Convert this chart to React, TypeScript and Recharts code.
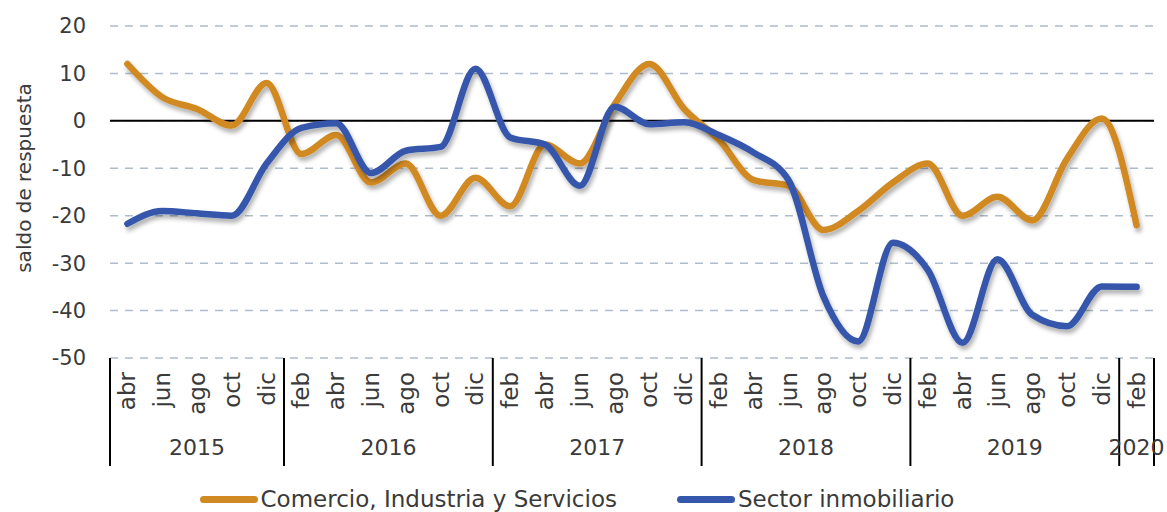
import { LineChart, Line, XAxis, YAxis, CartesianGrid, ReferenceLine, Legend } from 'recharts';

const meses = [
  'abr', 'jun', 'ago', 'oct', 'dic',
  'feb', 'abr', 'jun', 'ago', 'oct', 'dic',
  'feb', 'abr', 'jun', 'ago', 'oct', 'dic',
  'feb', 'abr', 'jun', 'ago', 'oct', 'dic',
  'feb', 'abr', 'jun', 'ago', 'oct', 'dic',
  'feb',
];

const anios = [
  '2015', '2015', '2015', '2015', '2015',
  '2016', '2016', '2016', '2016', '2016', '2016',
  '2017', '2017', '2017', '2017', '2017', '2017',
  '2018', '2018', '2018', '2018', '2018', '2018',
  '2019', '2019', '2019', '2019', '2019', '2019',
  '2020',
];

const comercio = [
  12, 5, 2.5, -1, 8,
  -7, -3, -13, -9, -20, -12,
  -18, -5, -9, 3.5, 12, 2.5,
  -4, -12.5, -13.7, -23, -19, -13,
  -9, -20, -16, -21, -8, 0.5,
  -22,
];

const inmobiliario = [
  -21.7, -19, -19.5, -20, -9,
  -1.5, -0.5, -11, -6.3, -5.5, 11,
  -3.5, -5, -13.7, 3, -0.7, -0.3,
  -3, -6.7, -12.5, -37, -46.5, -25.7,
  -31.4, -46.8, -29.2, -40.9, -43.3, -34.9,
  -35,
];

const yTicks = [-50, -40, -30, -20, -10, 0, 10, 20];

const data = meses.map((mes, i) => ({
  key: `${mes}-${anios[i]}`,
  mes,
  anio: anios[i],
  comercio: comercio[i],
  inmobiliario: inmobiliario[i],
}));

const W = 1167;
const H = 512;
const MARGIN = { top: 26, right: 13, left: 0, bottom: 0 };
const Y_W = 110;
const BAND = (W - MARGIN.left - MARGIN.right - Y_W) / data.length;
const FONT = '"DejaVu Sans", sans-serif';
const TXT = '#3a3a3a';
const NARANJA = '#d18924';
const AZUL = '#3457ab';

function MonthTick(props: any) {
  const { x, y, payload } = props;
  const i: number = payload.index;
  const anio = anios[i];
  let s = i;
  while (s > 0 && anios[s - 1] === anio) s--;
  let e = i;
  while (e < anios.length - 1 && anios[e + 1] === anio) e++;
  const c = (s + e) / 2;
  return (
    <g>
      <text
        transform={`translate(${x},${y + 14}) rotate(-90)`}
        textAnchor="end"
        dominantBaseline="central"
        fontSize={23}
        fill={TXT}
        fontFamily={FONT}
      >
        {meses[i]}
      </text>
      {i === s && <line x1={x - BAND / 2} x2={x - BAND / 2} y1={y} y2={y + 108} stroke="#000" strokeWidth={2} />}
      {i === anios.length - 1 && (
        <line x1={x + BAND / 2} x2={x + BAND / 2} y1={y} y2={y + 108} stroke="#000" strokeWidth={2} />
      )}
      {Math.floor(c) === i && (
        <text
          x={x + (c - i) * BAND}
          y={y + 97}
          textAnchor="middle"
          fontSize={22}
          fill={TXT}
          fontFamily={FONT}
        >
          {anio}
        </text>
      )}
    </g>
  );
}

function YLabel() {
  return (
    <text
      transform="translate(24,178) rotate(-90)"
      textAnchor="middle"
      dominantBaseline="central"
      fontSize={20}
      fill={TXT}
      fontFamily={FONT}
    >
      saldo de respuesta
    </text>
  );
}

function Leyenda() {
  const items = [
    { name: 'Comercio, Industria y Servicios', color: NARANJA },
    { name: 'Sector inmobiliario', color: AZUL },
  ];
  return (
    <div style={{ display: 'flex', justifyContent: 'center', gap: 60, paddingTop: 18, fontFamily: FONT }}>
      {items.map((it) => (
        <div key={it.name} style={{ display: 'flex', alignItems: 'center' }}>
          <span style={{ width: 58, height: 7, borderRadius: 4, background: it.color, marginRight: 3 }} />
          <span style={{ fontSize: 23, color: TXT }}>{it.name}</span>
        </div>
      ))}
    </div>
  );
}

export default function App() {
  return (
    <div style={{ position: 'absolute', left: 0, top: 0, width: W, height: H, background: '#fff' }}>
      <LineChart width={W} height={H} data={data} margin={MARGIN}>
        <defs>
          <filter id="sombra" x="-10%" y="-10%" width="120%" height="130%">
            <feDropShadow dx="2" dy="4" stdDeviation="2" floodColor="#000" floodOpacity="0.3" />
          </filter>
        </defs>
        <CartesianGrid vertical={false} stroke="#aebccb" strokeWidth={1.5} strokeDasharray="8 7" />
        <XAxis
          dataKey="key"
          interval={0}
          axisLine={false}
          tickLine={false}
          tickSize={0}
          tickMargin={0}
          height={110}
          padding={{ left: BAND / 2, right: BAND / 2 }}
          tick={<MonthTick />}
        />
        <YAxis
          width={Y_W}
          domain={[-50, 20]}
          ticks={yTicks}
          interval={0}
          axisLine={false}
          tickLine={false}
          tickMargin={18}
          tick={{ fontSize: 21, fill: TXT, fontFamily: FONT }}
          label={<YLabel />}
        />
        <ReferenceLine y={0} stroke="#000" strokeWidth={2} />
        <Legend verticalAlign="bottom" wrapperStyle={{ height: 44 }} content={<Leyenda />} />
        <Line
          type="monotone"
          dataKey="comercio"
          name="Comercio, Industria y Servicios"
          stroke={NARANJA}
          strokeWidth={6.5}
          strokeLinecap="round"
          dot={false}
          activeDot={false}
          filter="url(#sombra)"
          isAnimationActive={false}
        />
        <Line
          type="monotone"
          dataKey="inmobiliario"
          name="Sector inmobiliario"
          stroke={AZUL}
          strokeWidth={6.5}
          strokeLinecap="round"
          dot={false}
          activeDot={false}
          filter="url(#sombra)"
          isAnimationActive={false}
        />
      </LineChart>
    </div>
  );
}
